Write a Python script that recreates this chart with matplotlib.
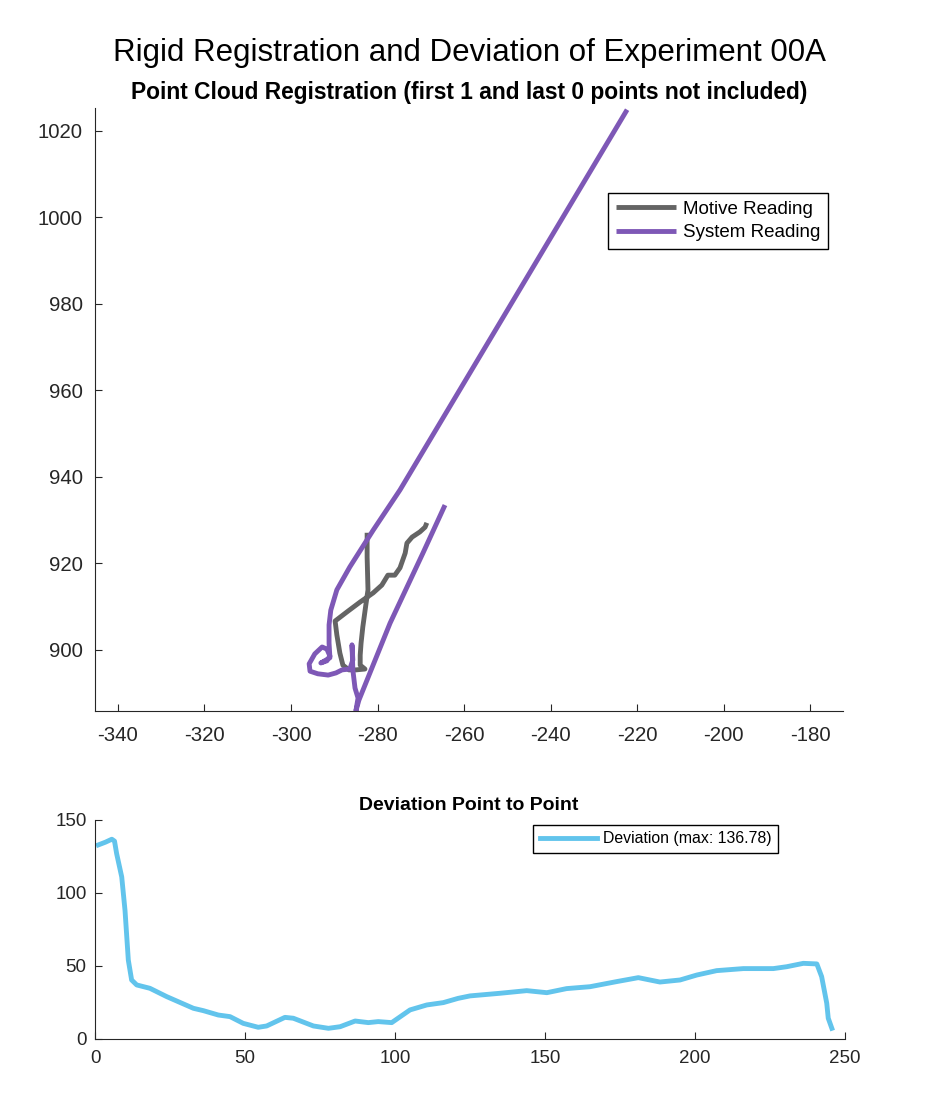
import matplotlib
matplotlib.use("Agg")
import matplotlib.pyplot as plt

plt.rcParams['font.family'] = ['Liberation Sans', 'DejaVu Sans']
plt.rcParams['axes.unicode_minus'] = False

# point cloud paths (x, y)
motive_x = [-282.4, -282.4, -282.2, -282.7, -283.4, -283.8, -284.0, -284.0, -282.9,
            -285.0, -286.6, -288.0, -288.7, -289.4, -289.8, -286.8, -284.0, -281.0,
            -279.0, -277.6, -276.0, -274.8, -273.6, -273.2, -272.0, -270.2, -269.0,
            -268.6]
motive_y = [927.1, 921.5, 913.9, 910.4, 905.3, 901.6, 898.8, 896.5, 895.6,
            895.4, 895.4, 896.5, 899.3, 903.5, 906.7, 909.0, 911.1, 913.2,
            915.0, 917.3, 917.3, 919.0, 922.4, 924.7, 926.1, 927.3, 928.4,
            929.4]

system_x = [-264.4, -269.5, -277.1, -282.4, -284.3, -285.0, -284.5, -285.2, -285.7,
            -285.9, -285.7, -286.4, -288.2, -289.6, -291.4, -293.8, -295.6, -295.8,
            -294.5, -292.8, -291.7, -291.0, -291.7, -293.1, -291.0, -291.2, -291.2,
            -290.8, -289.4, -286.4, -281.0, -274.8, -222.3]
system_y = [933.5, 922.4, 906.2, 893.1, 888.4, 885.9, 888.9, 891.2, 895.4,
            901.2, 897.7, 895.6, 895.4, 894.7, 894.2, 894.5, 895.1, 896.8,
            899.1, 900.7, 900.2, 898.6, 897.5, 897.0, 898.2, 901.6, 905.8,
            909.2, 913.9, 919.2, 927.7, 937.0, 1024.9]

# deviation point to point
dev_idx = [1.1, 3.5, 5.6, 6.5, 7.2, 8.9, 10.0, 11.1, 12.2, 13.9, 18.3, 23.9, 32.8,
           36.1, 41.1, 45.0, 49.4, 54.4, 57.2, 63.3, 66.1, 72.8, 77.8, 81.7, 86.7,
           91.1, 94.4, 98.9, 105.0, 110.6, 116.1, 121.0, 125.0, 135.0, 143.9, 150.6,
           157.2, 165.0, 173.9, 181.1, 188.3, 195.0, 200.6, 207.2, 216.1, 226.1,
           230.6, 236.1, 240.6, 242.2, 243.9, 244.4, 245.6]
dev_val = [132.9, 134.8, 136.8, 135.5, 127.0, 111.0, 88.0, 54.0, 40.4, 37.0, 34.7,
           29.0, 21.0, 19.4, 16.4, 15.3, 10.7, 8.0, 8.9, 14.8, 14.2, 8.9, 7.3, 8.4,
           12.3, 11.2, 11.9, 11.2, 19.9, 23.3, 24.9, 27.8, 29.5, 31.3, 33.1, 31.7,
           34.5, 35.8, 39.3, 42.0, 39.0, 40.4, 43.8, 46.8, 48.2, 48.2, 49.5, 51.8,
           51.4, 42.7, 24.5, 14.2, 7.3]
dev_max = 136.78

gray = '#646464'
purple = '#7e58b6'
blue = '#62c4ec'
axcol = '#262626'

fig = plt.figure(figsize=(9.38, 10.94), dpi=100)

ax1 = fig.add_axes([0.1013, 0.3501, 0.7974, 0.5512])
ax1.plot(motive_x, motive_y, color=gray, lw=3.5, label='Motive Reading',
         solid_joinstyle='round', solid_capstyle='butt')
ax1.plot(system_x, system_y, color=purple, lw=3.5, label='System Reading',
         solid_joinstyle='round', solid_capstyle='butt')
ax1.set_xlim(-345.3, -172.4)
ax1.set_ylim(885.9, 1025.3)
ax1.set_xticks(range(-340, -179, 20))
ax1.set_yticks(range(900, 1021, 20))
ax1.tick_params(direction='in', length=5, width=0.8, labelsize=14.7,
                colors=axcol)
ax1.tick_params(axis='x', pad=11)
ax1.tick_params(axis='y', pad=9)
for s in ['top', 'right']:
    ax1.spines[s].set_visible(False)
for s in ['left', 'bottom']:
    ax1.spines[s].set_color(axcol)
ax1.legend(loc='upper right', bbox_to_anchor=(0.98, 0.859), borderaxespad=0,
           fontsize=13.5, fancybox=False, edgecolor='black', framealpha=1,
           handlelength=3.2, handletextpad=0.4, labelspacing=0.35,
           borderpad=0.4)

ax2 = fig.add_axes([0.1013, 0.0503, 0.7996, 0.2002])
ax2.plot(dev_idx, dev_val, color=blue, lw=3.5,
         label='Deviation (max: %.2f)' % dev_max,
         solid_joinstyle='round')
ax2.set_xlim(0, 250)
ax2.set_ylim(0, 150)
ax2.set_xticks(range(0, 251, 50))
ax2.set_yticks(range(0, 151, 50))
ax2.tick_params(direction='in', length=5, width=0.8, labelsize=13.5,
                colors=axcol)
ax2.tick_params(axis='x', pad=8)
ax2.tick_params(axis='y', pad=6)
for s in ['top', 'right']:
    ax2.spines[s].set_visible(False)
for s in ['left', 'bottom']:
    ax2.spines[s].set_color(axcol)
ax2.legend(loc='upper right', bbox_to_anchor=(0.9107, 0.977), borderaxespad=0,
           fontsize=11.4, fancybox=False, edgecolor='black', framealpha=1,
           handlelength=3.6, handletextpad=0.4, borderpad=0.4)

fig.text(0.5, 1 - 53 / 1094, 'Rigid Registration and Deviation of Experiment 00A',
         ha='center', va='center', fontsize=22.5)
fig.text(0.5, 1 - 93 / 1094,
         'Point Cloud Registration (first 1 and last 0 points not included)',
         ha='center', va='center', fontsize=16.4, fontweight='bold')
fig.text(0.5, 1 - 806 / 1094, 'Deviation Point to Point',
         ha='center', va='center', fontsize=14, fontweight='bold')

fig.savefig('out.png', dpi=100)
